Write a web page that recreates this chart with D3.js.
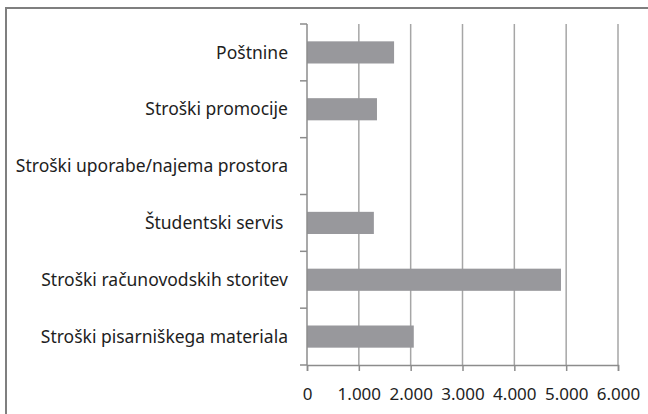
<!DOCTYPE html>
<html>
<head>
<meta charset="utf-8">
<script src="https://cdn.jsdelivr.net/npm/d3@7"></script>
<style>
  body { margin: 0; background: #fff; }
  svg { display: block; }
</style>
</head>
<body>
<svg id="chart" width="648" height="414"></svg>
<script>
// data (top to bottom)
const categories = [
  "Poštnine",
  "Stroški promocije",
  "Stroški uporabe/najema prostora",
  "Študentski servis ",
  "Stroški računovodskih storitev",
  "Stroški pisarniškega materiala"
];
const values = [1680, 1350, 0, 1290, 4900, 2060];
const xTicks = [0, 1000, 2000, 3000, 4000, 5000, 6000];

const svg = d3.select("#chart");
const plotLeft = 307, plotRight = 618, plotTop = 24, plotBottom = 365;
const font = "'Noto Sans', sans-serif";

const x = d3.scaleLinear().domain([0, 6000]).range([plotLeft, plotRight]);
const y = d3.scaleBand().domain(categories).range([plotTop, plotBottom])
  .paddingInner(0.61).paddingOuter(0.305);

// frame (only left and top visible)
svg.append("path")
  .attr("d", "M6,414V8H648")
  .attr("fill", "none")
  .attr("stroke", "#7f7f7f")
  .attr("stroke-width", 2);

// gridlines
svg.append("g")
  .selectAll("line")
  .data(xTicks.slice(1))
  .join("line")
  .attr("x1", d => x(d)).attr("x2", d => x(d))
  .attr("y1", plotTop).attr("y2", plotBottom)
  .attr("stroke", "#a6a6a6")
  .attr("stroke-width", 1.5);

// bars
svg.append("g")
  .selectAll("rect")
  .data(values)
  .join("rect")
  .attr("x", x(0))
  .attr("y", (d, i) => y(categories[i]))
  .attr("width", d => x(d) - x(0))
  .attr("height", y.bandwidth())
  .attr("fill", "#98989c");

// x axis
const xAxis = svg.append("g")
  .attr("transform", `translate(0,${plotBottom})`)
  .call(d3.axisBottom(x).tickValues(xTicks)
    .tickFormat(d => d3.format(",")(d).replace(/,/g, "."))
    .tickSize(6).tickPadding(17));
xAxis.select(".domain").attr("stroke", "#8c8c8c").attr("stroke-width", 1.5);
xAxis.selectAll(".tick line").attr("stroke", "#8c8c8c").attr("stroke-width", 1.5);
xAxis.selectAll("text").attr("font-family", font).attr("font-size", 17).attr("fill", "#1e1e1e");

// y axis: ticks at band boundaries
const bounds = categories.map(c => y(c) - y.step() * y.paddingInner() / 2);
bounds.push(plotBottom);
svg.append("line")
  .attr("x1", plotLeft).attr("x2", plotLeft).attr("y1", plotTop).attr("y2", plotBottom)
  .attr("stroke", "#8c8c8c").attr("stroke-width", 1.5);
svg.append("g")
  .selectAll("line")
  .data(bounds)
  .join("line")
  .attr("x1", plotLeft - 7).attr("x2", plotLeft)
  .attr("y1", d => d).attr("y2", d => d)
  .attr("stroke", "#8c8c8c").attr("stroke-width", 1.5);

svg.append("g")
  .selectAll("text")
  .data(categories)
  .join("text")
  .attr("x", 288)
  .attr("y", d => y(d) + y.bandwidth() / 2)
  .attr("dy", "0.35em")
  .attr("text-anchor", "end")
  .attr("font-family", font)
  .attr("font-size", 17.5)
  .attr("fill", "#1e1e1e")
  .style("white-space", "pre")
  .text(d => d);
</script>
</body>
</html>
